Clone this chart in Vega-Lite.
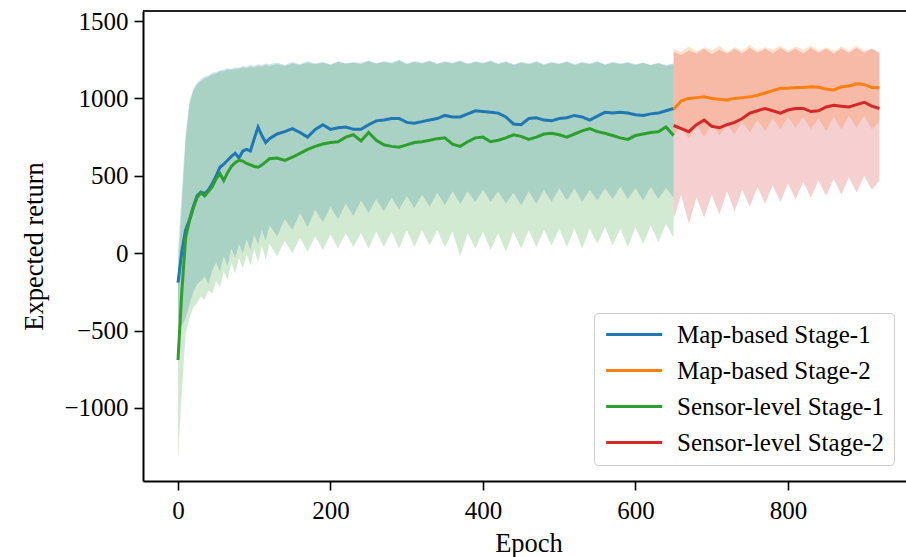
{
  "$schema": "https://vega.github.io/schema/vega-lite/v6.json",
  "width": 763,
  "height": 470,
  "autosize": {"type": "none"},
  "padding": {"left": 143, "top": 11, "right": 0, "bottom": 76},
  "background": "white",
  "config": {
    "view": {"stroke": null},
    "font": "Liberation Serif",
    "axis": {
      "grid": false,
      "domainColor": "black",
      "domainWidth": 2,
      "tickColor": "black",
      "tickWidth": 1.6,
      "tickSize": 9,
      "labelFont": "Liberation Serif",
      "labelFontSize": 25,
      "labelColor": "black",
      "titleFont": "Liberation Serif",
      "titleFontSize": 26.5,
      "titleFontWeight": "normal",
      "titleColor": "black",
      "format": "d"
    }
  },
  "resolve": {"legend": {"color": "independent"}},
  "data": {"values": [
    {"series":"Map-based Stage-1","epoch":0,"mean":-190,"lo":-420,"hi":20},
    {"series":"Map-based Stage-1","epoch":5,"mean":10,"lo":-470,"hi":400},
    {"series":"Map-based Stage-1","epoch":10,"mean":150,"lo":-420,"hi":760},
    {"series":"Map-based Stage-1","epoch":15,"mean":215,"lo":-330,"hi":980},
    {"series":"Map-based Stage-1","epoch":20,"mean":300,"lo":-250,"hi":1060},
    {"series":"Map-based Stage-1","epoch":25,"mean":370,"lo":-200,"hi":1100},
    {"series":"Map-based Stage-1","epoch":30,"mean":395,"lo":-180,"hi":1125},
    {"series":"Map-based Stage-1","epoch":35,"mean":385,"lo":-150,"hi":1140},
    {"series":"Map-based Stage-1","epoch":40,"mean":410,"lo":-200,"hi":1150},
    {"series":"Map-based Stage-1","epoch":45,"mean":450,"lo":-110,"hi":1165},
    {"series":"Map-based Stage-1","epoch":50,"mean":500,"lo":-60,"hi":1170},
    {"series":"Map-based Stage-1","epoch":55,"mean":555,"lo":-120,"hi":1180},
    {"series":"Map-based Stage-1","epoch":60,"mean":575,"lo":-20,"hi":1185},
    {"series":"Map-based Stage-1","epoch":65,"mean":600,"lo":-80,"hi":1195},
    {"series":"Map-based Stage-1","epoch":70,"mean":625,"lo":30,"hi":1190},
    {"series":"Map-based Stage-1","epoch":75,"mean":645,"lo":-30,"hi":1200},
    {"series":"Map-based Stage-1","epoch":80,"mean":615,"lo":60,"hi":1195},
    {"series":"Map-based Stage-1","epoch":85,"mean":660,"lo":0,"hi":1210},
    {"series":"Map-based Stage-1","epoch":90,"mean":670,"lo":90,"hi":1205},
    {"series":"Map-based Stage-1","epoch":95,"mean":660,"lo":20,"hi":1215},
    {"series":"Map-based Stage-1","epoch":100,"mean":740,"lo":120,"hi":1210},
    {"series":"Map-based Stage-1","epoch":105,"mean":815,"lo":60,"hi":1220},
    {"series":"Map-based Stage-1","epoch":110,"mean":760,"lo":150,"hi":1215},
    {"series":"Map-based Stage-1","epoch":115,"mean":715,"lo":80,"hi":1225},
    {"series":"Map-based Stage-1","epoch":120,"mean":740,"lo":180,"hi":1220},
    {"series":"Map-based Stage-1","epoch":130,"mean":770,"lo":110,"hi":1230},
    {"series":"Map-based Stage-1","epoch":140,"mean":785,"lo":220,"hi":1215},
    {"series":"Map-based Stage-1","epoch":150,"mean":805,"lo":150,"hi":1235},
    {"series":"Map-based Stage-1","epoch":160,"mean":780,"lo":260,"hi":1220},
    {"series":"Map-based Stage-1","epoch":170,"mean":750,"lo":170,"hi":1240},
    {"series":"Map-based Stage-1","epoch":180,"mean":800,"lo":280,"hi":1225},
    {"series":"Map-based Stage-1","epoch":190,"mean":830,"lo":200,"hi":1235},
    {"series":"Map-based Stage-1","epoch":200,"mean":800,"lo":300,"hi":1220},
    {"series":"Map-based Stage-1","epoch":210,"mean":810,"lo":220,"hi":1240},
    {"series":"Map-based Stage-1","epoch":220,"mean":815,"lo":320,"hi":1225},
    {"series":"Map-based Stage-1","epoch":230,"mean":800,"lo":240,"hi":1235},
    {"series":"Map-based Stage-1","epoch":240,"mean":800,"lo":340,"hi":1230},
    {"series":"Map-based Stage-1","epoch":250,"mean":830,"lo":260,"hi":1245},
    {"series":"Map-based Stage-1","epoch":260,"mean":855,"lo":350,"hi":1225},
    {"series":"Map-based Stage-1","epoch":270,"mean":860,"lo":270,"hi":1240},
    {"series":"Map-based Stage-1","epoch":280,"mean":870,"lo":360,"hi":1230},
    {"series":"Map-based Stage-1","epoch":290,"mean":870,"lo":280,"hi":1250},
    {"series":"Map-based Stage-1","epoch":300,"mean":845,"lo":370,"hi":1225},
    {"series":"Map-based Stage-1","epoch":310,"mean":840,"lo":290,"hi":1240},
    {"series":"Map-based Stage-1","epoch":320,"mean":850,"lo":380,"hi":1230},
    {"series":"Map-based Stage-1","epoch":330,"mean":860,"lo":300,"hi":1245},
    {"series":"Map-based Stage-1","epoch":340,"mean":870,"lo":390,"hi":1225},
    {"series":"Map-based Stage-1","epoch":350,"mean":890,"lo":310,"hi":1240},
    {"series":"Map-based Stage-1","epoch":360,"mean":880,"lo":400,"hi":1230},
    {"series":"Map-based Stage-1","epoch":370,"mean":880,"lo":320,"hi":1245},
    {"series":"Map-based Stage-1","epoch":380,"mean":900,"lo":400,"hi":1225},
    {"series":"Map-based Stage-1","epoch":390,"mean":920,"lo":330,"hi":1240},
    {"series":"Map-based Stage-1","epoch":400,"mean":915,"lo":410,"hi":1230},
    {"series":"Map-based Stage-1","epoch":410,"mean":910,"lo":330,"hi":1245},
    {"series":"Map-based Stage-1","epoch":420,"mean":905,"lo":400,"hi":1225},
    {"series":"Map-based Stage-1","epoch":430,"mean":880,"lo":320,"hi":1240},
    {"series":"Map-based Stage-1","epoch":440,"mean":835,"lo":390,"hi":1220},
    {"series":"Map-based Stage-1","epoch":450,"mean":830,"lo":310,"hi":1235},
    {"series":"Map-based Stage-1","epoch":460,"mean":870,"lo":400,"hi":1225},
    {"series":"Map-based Stage-1","epoch":470,"mean":875,"lo":320,"hi":1240},
    {"series":"Map-based Stage-1","epoch":480,"mean":860,"lo":410,"hi":1220},
    {"series":"Map-based Stage-1","epoch":490,"mean":855,"lo":330,"hi":1235},
    {"series":"Map-based Stage-1","epoch":500,"mean":870,"lo":420,"hi":1225},
    {"series":"Map-based Stage-1","epoch":510,"mean":875,"lo":340,"hi":1240},
    {"series":"Map-based Stage-1","epoch":520,"mean":890,"lo":420,"hi":1220},
    {"series":"Map-based Stage-1","epoch":530,"mean":880,"lo":330,"hi":1235},
    {"series":"Map-based Stage-1","epoch":540,"mean":860,"lo":410,"hi":1225},
    {"series":"Map-based Stage-1","epoch":550,"mean":885,"lo":340,"hi":1240},
    {"series":"Map-based Stage-1","epoch":560,"mean":910,"lo":420,"hi":1220},
    {"series":"Map-based Stage-1","epoch":570,"mean":905,"lo":350,"hi":1235},
    {"series":"Map-based Stage-1","epoch":580,"mean":910,"lo":430,"hi":1225},
    {"series":"Map-based Stage-1","epoch":590,"mean":905,"lo":350,"hi":1235},
    {"series":"Map-based Stage-1","epoch":600,"mean":895,"lo":420,"hi":1220},
    {"series":"Map-based Stage-1","epoch":610,"mean":890,"lo":340,"hi":1230},
    {"series":"Map-based Stage-1","epoch":620,"mean":900,"lo":430,"hi":1215},
    {"series":"Map-based Stage-1","epoch":630,"mean":905,"lo":350,"hi":1230},
    {"series":"Map-based Stage-1","epoch":640,"mean":920,"lo":420,"hi":1215},
    {"series":"Map-based Stage-1","epoch":650,"mean":935,"lo":360,"hi":1225},

    {"series":"Map-based Stage-2","epoch":650,"mean":930,"lo":760,"hi":1320},
    {"series":"Map-based Stage-2","epoch":660,"mean":985,"lo":820,"hi":1300},
    {"series":"Map-based Stage-2","epoch":670,"mean":1000,"lo":740,"hi":1335},
    {"series":"Map-based Stage-2","epoch":680,"mean":1005,"lo":830,"hi":1305},
    {"series":"Map-based Stage-2","epoch":690,"mean":1010,"lo":750,"hi":1330},
    {"series":"Map-based Stage-2","epoch":700,"mean":1000,"lo":840,"hi":1310},
    {"series":"Map-based Stage-2","epoch":710,"mean":995,"lo":760,"hi":1340},
    {"series":"Map-based Stage-2","epoch":720,"mean":990,"lo":830,"hi":1300},
    {"series":"Map-based Stage-2","epoch":730,"mean":1000,"lo":770,"hi":1330},
    {"series":"Map-based Stage-2","epoch":740,"mean":1005,"lo":850,"hi":1310},
    {"series":"Map-based Stage-2","epoch":750,"mean":1010,"lo":780,"hi":1345},
    {"series":"Map-based Stage-2","epoch":760,"mean":1020,"lo":860,"hi":1310},
    {"series":"Map-based Stage-2","epoch":770,"mean":1035,"lo":790,"hi":1330},
    {"series":"Map-based Stage-2","epoch":780,"mean":1050,"lo":870,"hi":1315},
    {"series":"Map-based Stage-2","epoch":790,"mean":1065,"lo":800,"hi":1340},
    {"series":"Map-based Stage-2","epoch":800,"mean":1065,"lo":880,"hi":1310},
    {"series":"Map-based Stage-2","epoch":810,"mean":1070,"lo":810,"hi":1335},
    {"series":"Map-based Stage-2","epoch":820,"mean":1070,"lo":880,"hi":1315},
    {"series":"Map-based Stage-2","epoch":830,"mean":1075,"lo":800,"hi":1340},
    {"series":"Map-based Stage-2","epoch":840,"mean":1072,"lo":870,"hi":1310},
    {"series":"Map-based Stage-2","epoch":850,"mean":1060,"lo":790,"hi":1330},
    {"series":"Map-based Stage-2","epoch":860,"mean":1055,"lo":880,"hi":1305},
    {"series":"Map-based Stage-2","epoch":870,"mean":1075,"lo":800,"hi":1335},
    {"series":"Map-based Stage-2","epoch":880,"mean":1080,"lo":890,"hi":1310},
    {"series":"Map-based Stage-2","epoch":890,"mean":1095,"lo":810,"hi":1340},
    {"series":"Map-based Stage-2","epoch":900,"mean":1090,"lo":890,"hi":1310},
    {"series":"Map-based Stage-2","epoch":910,"mean":1070,"lo":800,"hi":1320},
    {"series":"Map-based Stage-2","epoch":920,"mean":1068,"lo":850,"hi":1300},

    {"series":"Sensor-level Stage-1","epoch":0,"mean":-690,"lo":-1330,"hi":-100},
    {"series":"Sensor-level Stage-1","epoch":5,"mean":-250,"lo":-900,"hi":300},
    {"series":"Sensor-level Stage-1","epoch":10,"mean":100,"lo":-520,"hi":740},
    {"series":"Sensor-level Stage-1","epoch":15,"mean":210,"lo":-420,"hi":960},
    {"series":"Sensor-level Stage-1","epoch":20,"mean":290,"lo":-350,"hi":1050},
    {"series":"Sensor-level Stage-1","epoch":25,"mean":360,"lo":-320,"hi":1090},
    {"series":"Sensor-level Stage-1","epoch":30,"mean":390,"lo":-280,"hi":1110},
    {"series":"Sensor-level Stage-1","epoch":35,"mean":370,"lo":-300,"hi":1130},
    {"series":"Sensor-level Stage-1","epoch":40,"mean":400,"lo":-240,"hi":1140},
    {"series":"Sensor-level Stage-1","epoch":45,"mean":430,"lo":-260,"hi":1155},
    {"series":"Sensor-level Stage-1","epoch":50,"mean":480,"lo":-180,"hi":1160},
    {"series":"Sensor-level Stage-1","epoch":55,"mean":515,"lo":-220,"hi":1175},
    {"series":"Sensor-level Stage-1","epoch":60,"mean":470,"lo":-120,"hi":1175},
    {"series":"Sensor-level Stage-1","epoch":65,"mean":520,"lo":-170,"hi":1185},
    {"series":"Sensor-level Stage-1","epoch":70,"mean":560,"lo":-60,"hi":1185},
    {"series":"Sensor-level Stage-1","epoch":75,"mean":585,"lo":-130,"hi":1190},
    {"series":"Sensor-level Stage-1","epoch":80,"mean":600,"lo":-30,"hi":1195},
    {"series":"Sensor-level Stage-1","epoch":85,"mean":595,"lo":-100,"hi":1200},
    {"series":"Sensor-level Stage-1","epoch":90,"mean":580,"lo":0,"hi":1195},
    {"series":"Sensor-level Stage-1","epoch":95,"mean":570,"lo":-80,"hi":1205},
    {"series":"Sensor-level Stage-1","epoch":100,"mean":560,"lo":30,"hi":1200},
    {"series":"Sensor-level Stage-1","epoch":105,"mean":555,"lo":-60,"hi":1210},
    {"series":"Sensor-level Stage-1","epoch":110,"mean":570,"lo":50,"hi":1205},
    {"series":"Sensor-level Stage-1","epoch":115,"mean":590,"lo":-40,"hi":1215},
    {"series":"Sensor-level Stage-1","epoch":120,"mean":610,"lo":60,"hi":1210},
    {"series":"Sensor-level Stage-1","epoch":130,"mean":615,"lo":-20,"hi":1220},
    {"series":"Sensor-level Stage-1","epoch":140,"mean":600,"lo":80,"hi":1210},
    {"series":"Sensor-level Stage-1","epoch":150,"mean":620,"lo":0,"hi":1225},
    {"series":"Sensor-level Stage-1","epoch":160,"mean":645,"lo":100,"hi":1215},
    {"series":"Sensor-level Stage-1","epoch":170,"mean":670,"lo":10,"hi":1230},
    {"series":"Sensor-level Stage-1","epoch":180,"mean":690,"lo":110,"hi":1220},
    {"series":"Sensor-level Stage-1","epoch":190,"mean":705,"lo":20,"hi":1230},
    {"series":"Sensor-level Stage-1","epoch":200,"mean":715,"lo":120,"hi":1215},
    {"series":"Sensor-level Stage-1","epoch":210,"mean":720,"lo":30,"hi":1235},
    {"series":"Sensor-level Stage-1","epoch":220,"mean":750,"lo":130,"hi":1225},
    {"series":"Sensor-level Stage-1","epoch":230,"mean":765,"lo":40,"hi":1230},
    {"series":"Sensor-level Stage-1","epoch":240,"mean":725,"lo":130,"hi":1220},
    {"series":"Sensor-level Stage-1","epoch":250,"mean":780,"lo":30,"hi":1240},
    {"series":"Sensor-level Stage-1","epoch":260,"mean":730,"lo":140,"hi":1225},
    {"series":"Sensor-level Stage-1","epoch":270,"mean":700,"lo":40,"hi":1235},
    {"series":"Sensor-level Stage-1","epoch":280,"mean":690,"lo":140,"hi":1225},
    {"series":"Sensor-level Stage-1","epoch":290,"mean":685,"lo":30,"hi":1245},
    {"series":"Sensor-level Stage-1","epoch":300,"mean":700,"lo":150,"hi":1220},
    {"series":"Sensor-level Stage-1","epoch":310,"mean":715,"lo":40,"hi":1235},
    {"series":"Sensor-level Stage-1","epoch":320,"mean":720,"lo":150,"hi":1225},
    {"series":"Sensor-level Stage-1","epoch":330,"mean":730,"lo":50,"hi":1240},
    {"series":"Sensor-level Stage-1","epoch":340,"mean":740,"lo":150,"hi":1220},
    {"series":"Sensor-level Stage-1","epoch":350,"mean":745,"lo":40,"hi":1235},
    {"series":"Sensor-level Stage-1","epoch":360,"mean":705,"lo":140,"hi":1225},
    {"series":"Sensor-level Stage-1","epoch":370,"mean":690,"lo":-20,"hi":1240},
    {"series":"Sensor-level Stage-1","epoch":380,"mean":720,"lo":130,"hi":1220},
    {"series":"Sensor-level Stage-1","epoch":390,"mean":745,"lo":30,"hi":1235},
    {"series":"Sensor-level Stage-1","epoch":400,"mean":750,"lo":140,"hi":1225},
    {"series":"Sensor-level Stage-1","epoch":410,"mean":720,"lo":20,"hi":1240},
    {"series":"Sensor-level Stage-1","epoch":420,"mean":730,"lo":130,"hi":1220},
    {"series":"Sensor-level Stage-1","epoch":430,"mean":745,"lo":10,"hi":1235},
    {"series":"Sensor-level Stage-1","epoch":440,"mean":765,"lo":140,"hi":1215},
    {"series":"Sensor-level Stage-1","epoch":450,"mean":755,"lo":30,"hi":1230},
    {"series":"Sensor-level Stage-1","epoch":460,"mean":735,"lo":150,"hi":1220},
    {"series":"Sensor-level Stage-1","epoch":470,"mean":750,"lo":40,"hi":1235},
    {"series":"Sensor-level Stage-1","epoch":480,"mean":770,"lo":150,"hi":1215},
    {"series":"Sensor-level Stage-1","epoch":490,"mean":775,"lo":50,"hi":1230},
    {"series":"Sensor-level Stage-1","epoch":500,"mean":765,"lo":160,"hi":1220},
    {"series":"Sensor-level Stage-1","epoch":510,"mean":750,"lo":40,"hi":1235},
    {"series":"Sensor-level Stage-1","epoch":520,"mean":770,"lo":160,"hi":1215},
    {"series":"Sensor-level Stage-1","epoch":530,"mean":790,"lo":30,"hi":1230},
    {"series":"Sensor-level Stage-1","epoch":540,"mean":805,"lo":160,"hi":1220},
    {"series":"Sensor-level Stage-1","epoch":550,"mean":785,"lo":60,"hi":1235},
    {"series":"Sensor-level Stage-1","epoch":560,"mean":775,"lo":170,"hi":1215},
    {"series":"Sensor-level Stage-1","epoch":570,"mean":760,"lo":50,"hi":1230},
    {"series":"Sensor-level Stage-1","epoch":580,"mean":745,"lo":160,"hi":1220},
    {"series":"Sensor-level Stage-1","epoch":590,"mean":735,"lo":40,"hi":1230},
    {"series":"Sensor-level Stage-1","epoch":600,"mean":760,"lo":170,"hi":1215},
    {"series":"Sensor-level Stage-1","epoch":610,"mean":770,"lo":60,"hi":1230},
    {"series":"Sensor-level Stage-1","epoch":620,"mean":780,"lo":180,"hi":1215},
    {"series":"Sensor-level Stage-1","epoch":630,"mean":785,"lo":70,"hi":1225},
    {"series":"Sensor-level Stage-1","epoch":640,"mean":815,"lo":190,"hi":1210},
    {"series":"Sensor-level Stage-1","epoch":650,"mean":760,"lo":100,"hi":1220},

    {"series":"Sensor-level Stage-2","epoch":650,"mean":825,"lo":220,"hi":1300},
    {"series":"Sensor-level Stage-2","epoch":660,"mean":805,"lo":380,"hi":1280},
    {"series":"Sensor-level Stage-2","epoch":670,"mean":785,"lo":190,"hi":1310},
    {"series":"Sensor-level Stage-2","epoch":680,"mean":830,"lo":360,"hi":1290},
    {"series":"Sensor-level Stage-2","epoch":690,"mean":860,"lo":230,"hi":1320},
    {"series":"Sensor-level Stage-2","epoch":700,"mean":820,"lo":380,"hi":1285},
    {"series":"Sensor-level Stage-2","epoch":710,"mean":810,"lo":250,"hi":1315},
    {"series":"Sensor-level Stage-2","epoch":720,"mean":830,"lo":400,"hi":1290},
    {"series":"Sensor-level Stage-2","epoch":730,"mean":845,"lo":270,"hi":1320},
    {"series":"Sensor-level Stage-2","epoch":740,"mean":870,"lo":410,"hi":1290},
    {"series":"Sensor-level Stage-2","epoch":750,"mean":905,"lo":300,"hi":1325},
    {"series":"Sensor-level Stage-2","epoch":760,"mean":920,"lo":430,"hi":1295},
    {"series":"Sensor-level Stage-2","epoch":770,"mean":935,"lo":320,"hi":1320},
    {"series":"Sensor-level Stage-2","epoch":780,"mean":920,"lo":440,"hi":1290},
    {"series":"Sensor-level Stage-2","epoch":790,"mean":905,"lo":330,"hi":1325},
    {"series":"Sensor-level Stage-2","epoch":800,"mean":925,"lo":450,"hi":1295},
    {"series":"Sensor-level Stage-2","epoch":810,"mean":935,"lo":350,"hi":1320},
    {"series":"Sensor-level Stage-2","epoch":820,"mean":935,"lo":460,"hi":1290},
    {"series":"Sensor-level Stage-2","epoch":830,"mean":915,"lo":360,"hi":1325},
    {"series":"Sensor-level Stage-2","epoch":840,"mean":920,"lo":470,"hi":1295},
    {"series":"Sensor-level Stage-2","epoch":850,"mean":945,"lo":370,"hi":1320},
    {"series":"Sensor-level Stage-2","epoch":860,"mean":955,"lo":480,"hi":1290},
    {"series":"Sensor-level Stage-2","epoch":870,"mean":950,"lo":380,"hi":1320},
    {"series":"Sensor-level Stage-2","epoch":880,"mean":945,"lo":490,"hi":1295},
    {"series":"Sensor-level Stage-2","epoch":890,"mean":960,"lo":390,"hi":1325},
    {"series":"Sensor-level Stage-2","epoch":900,"mean":975,"lo":500,"hi":1295},
    {"series":"Sensor-level Stage-2","epoch":910,"mean":950,"lo":410,"hi":1320},
    {"series":"Sensor-level Stage-2","epoch":920,"mean":935,"lo":470,"hi":1290}
  ]},
  "layer": [
    {
      "mark": {"type": "area", "opacity": 0.22},
      "encoding": {
        "x": {
          "field": "epoch", "type": "quantitative",
          "scale": {"domain": [-45.9, 954.8], "nice": false, "zero": false},
          "axis": {"title": "Epoch", "values": [0, 200, 400, 600, 800], "labelPadding": 8, "titlePadding": 7, "titleX": 385.5, "titleAlign": "center", "titleAnchor": null}
        },
        "y": {"field": "lo", "type": "quantitative",
          "scale": {"domain": [-1471.6, 1564.6], "nice": false, "zero": false},
          "axis": {"title": "Expected return", "values": [-1000, -500, 0, 500, 1000, 1500], "labelPadding": 6, "titlePadding": 15}},
        "y2": {"field": "hi"},
        "color": {"field": "series", "type": "nominal",
          "scale": {"domain": ["Map-based Stage-1", "Map-based Stage-2", "Sensor-level Stage-1", "Sensor-level Stage-2"], "range": ["#1f77b4", "#ff7f0e", "#2ca02c", "#d62728"]},
          "legend": null}
      }
    },
    {
      "mark": {"type": "line", "strokeWidth": 3},
      "encoding": {
        "x": {"field": "epoch", "type": "quantitative"},
        "y": {"field": "mean", "type": "quantitative"},
        "color": {"field": "series", "type": "nominal",
          "legend": {
            "title": null, "orient": "none", "legendX": 451, "legendY": 302,
            "symbolType": "M-1,0H5", "symbolSize": 348, "symbolStrokeWidth": 3,
            "labelFont": "Liberation Serif", "labelFontSize": 25, "labelColor": "black",
            "labelLimit": 400,
            "labelOffset": 49, "padding": 9, "rowPadding": 10,
            "strokeColor": "#cccccc", "fillColor": "rgba(255,255,255,0.8)", "cornerRadius": 4
          }}
      }
    },
    {
      "data": {"values": [{}]},
      "mark": {"type": "rule", "color": "#222222", "strokeWidth": 2},
      "encoding": {"y": {"datum": 1564.6}}
    }
  ]
}
